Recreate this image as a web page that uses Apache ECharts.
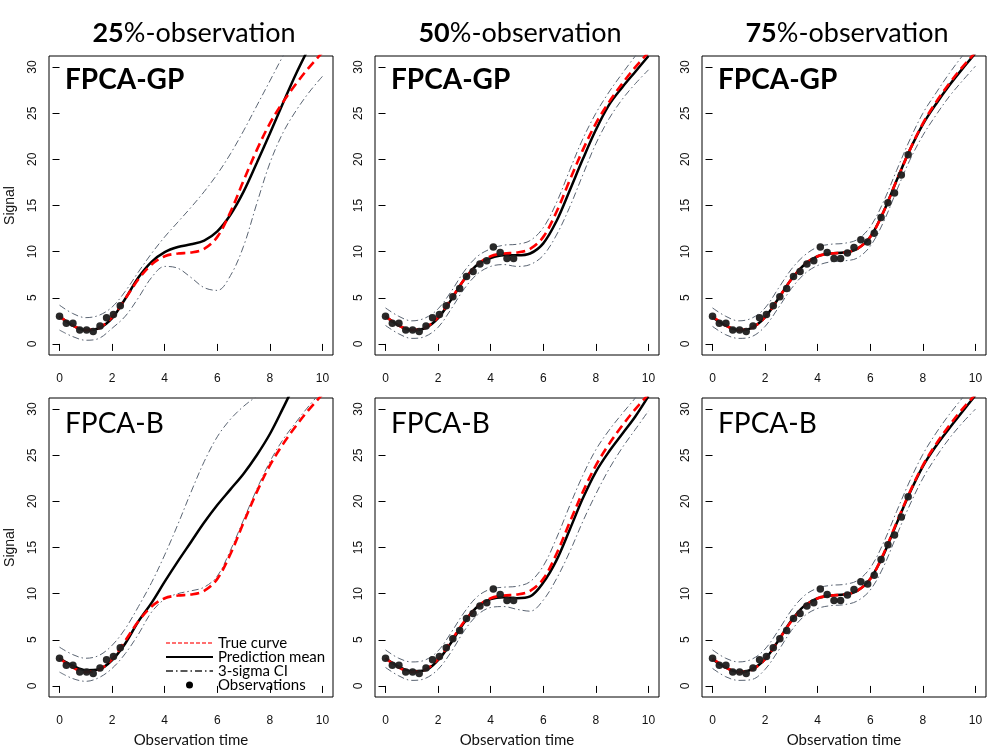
<!DOCTYPE html>
<html>
<head>
<meta charset="utf-8">
<script src="https://cdn.jsdelivr.net/npm/echarts@6/dist/echarts.min.js"></script>
<style>html,body{margin:0;padding:0;background:#fff}#c{width:998px;height:750px}</style>
</head>
<body>
<div id="c"></div>
<script>
// ---------- data ----------
const xTicks = [0, 2, 4, 6, 8, 10];
const yTicks = [0, 5, 10, 15, 20, 25, 30];
const colTitlesBold = ['25', '50', '75'];
const colTitlesRest = ['%-observation', '%-observation', '%-observation'];
const rowLabels = ['FPCA-GP', 'FPCA-B'];
const obsCount = [10, 20, 30];

const tGrid = [0, 0.5, 1, 1.5, 2, 2.5, 3, 3.5, 4, 4.5, 5, 5.5, 6, 6.5, 7, 7.5, 8, 8.5, 9, 9.5, 10];

const trueCurve = [3.0, 2.0, 1.5, 1.75, 2.9, 4.9, 7.0, 8.6, 9.5, 9.8, 9.9, 10.3, 11.6, 14.3, 17.7, 21.0, 23.9, 26.2, 28.2, 30.0, 31.6];

const obsTime = [0, 0.26, 0.51, 0.77, 1.03, 1.28, 1.54, 1.79, 2.05, 2.31, 2.56, 2.82, 3.08, 3.33, 3.59, 3.85, 4.10, 4.36, 4.62, 4.87, 5.13, 5.38, 5.64, 5.90, 6.15, 6.41, 6.67, 6.92, 7.18, 7.44];
const obsValue = [3.0, 2.25, 2.25, 1.5, 1.5, 1.35, 1.95, 2.85, 3.2, 4.15, 5.1, 6.0, 7.3, 7.85, 8.65, 9.0, 10.5, 9.9, 9.25, 9.25, 9.85, 10.45, 11.3, 11.05, 12.0, 13.7, 15.3, 16.35, 18.3, 20.5];

// FPCA-GP
const gp25Mean  = [3.0, 2.0, 1.5, 1.7, 2.8, 4.9, 7.2, 8.9, 9.95, 10.5, 10.8, 11.2, 12.2, 14.0, 16.5, 19.6, 22.8, 26.1, 29.3, 32.2, 35.0];
const gp25Upper = [4.2, 3.3, 2.85, 3.1, 4.0, 5.7, 7.8, 9.8, 11.6, 13.2, 14.8, 16.5, 18.4, 20.6, 23.1, 25.8, 28.5, 31.2, 33.6, 35.5, 37.0];
const gp25Lower = [1.5, 0.8, 0.4, 0.6, 1.7, 3.0, 5.0, 7.2, 8.4, 8.2, 7.2, 6.1, 5.8, 7.4, 10.6, 15.2, 19.6, 22.9, 25.3, 27.3, 29.0];

const gp50Mean  = [3.0, 2.0, 1.5, 1.7, 2.8, 4.8, 7.0, 8.6, 9.3, 9.6, 9.6, 9.8, 10.9, 13.3, 16.6, 20.0, 23.2, 25.9, 27.8, 29.5, 31.2];
const gp50Upper = [3.9, 3.0, 2.5, 2.8, 3.8, 5.7, 7.9, 9.5, 10.3, 10.7, 10.8, 11.2, 12.6, 15.3, 18.8, 22.2, 25.0, 27.3, 29.3, 31.2, 33.0];
const gp50Lower = [2.0, 1.1, 0.6, 0.8, 1.8, 3.8, 6.0, 7.6, 8.4, 8.6, 8.4, 8.6, 9.6, 11.8, 14.8, 18.3, 21.7, 24.4, 26.5, 28.2, 29.7];

const gp75Mean  = [2.9, 2.0, 1.5, 1.75, 2.9, 4.9, 7.0, 8.6, 9.5, 9.8, 9.9, 10.3, 11.6, 14.3, 17.7, 21.0, 23.8, 26.0, 28.0, 29.8, 31.5];
const gp75Upper = [3.9, 3.0, 2.5, 2.8, 3.9, 6.0, 8.1, 9.6, 10.5, 10.8, 10.9, 11.3, 12.7, 15.4, 18.8, 22.1, 25.0, 27.2, 29.3, 31.2, 32.9];
const gp75Lower = [1.9, 1.0, 0.6, 0.8, 1.9, 3.9, 6.0, 7.6, 8.5, 8.9, 9.0, 9.3, 10.6, 13.2, 16.6, 19.9, 22.6, 24.8, 26.8, 28.5, 30.1];

// FPCA-B
const b25Mean  = [3.0, 2.2, 1.7, 1.8, 2.8, 4.6, 7.0, 9.0, 11.3, 13.5, 15.6, 17.7, 19.6, 21.3, 23.0, 25.0, 27.3, 30.1, 33.0, 35.5, 37.5];
const b25Upper = [4.2, 3.4, 3.0, 3.3, 4.4, 6.2, 8.6, 11.2, 14.2, 17.5, 21.0, 24.3, 27.0, 28.9, 30.3, 31.4, 32.5, 33.5, 34.5, 35.5, 36.5];
const b25Lower = [1.5, 0.8, 0.5, 0.9, 1.9, 3.5, 5.6, 8.0, 9.4, 10.0, 10.3, 10.7, 11.9, 14.7, 18.0, 21.3, 24.3, 26.7, 28.6, 30.4, 32.0];

const b50Mean  = [3.0, 2.1, 1.6, 1.7, 2.8, 4.7, 6.9, 8.6, 9.4, 9.6, 9.5, 9.7, 11.2, 13.6, 16.9, 20.3, 23.2, 25.4, 27.3, 29.2, 31.4];
const b50Upper = [3.9, 3.0, 2.6, 2.8, 3.8, 5.8, 8.0, 9.7, 10.5, 10.7, 10.8, 11.3, 13.0, 16.0, 19.5, 22.8, 25.6, 27.7, 29.5, 31.2, 33.0];
const b50Lower = [2.0, 1.1, 0.6, 0.8, 1.8, 3.7, 6.0, 7.7, 8.5, 8.6, 8.3, 8.1, 9.3, 11.6, 14.5, 17.8, 20.8, 23.5, 25.8, 27.8, 29.8];

const b75Mean  = [2.9, 2.0, 1.5, 1.8, 2.9, 4.9, 7.1, 8.7, 9.5, 9.8, 9.9, 10.3, 11.6, 14.2, 17.6, 20.9, 23.8, 26.0, 27.9, 29.7, 31.5];
const b75Upper = [3.9, 3.0, 2.6, 2.9, 4.0, 6.0, 8.2, 9.8, 10.6, 10.9, 11.0, 11.4, 12.8, 15.5, 18.9, 22.2, 25.1, 27.4, 29.4, 31.2, 33.0];
const b75Lower = [1.9, 1.0, 0.6, 0.7, 1.8, 3.8, 6.0, 7.6, 8.4, 8.7, 8.8, 9.2, 10.4, 12.9, 16.3, 19.6, 22.5, 24.8, 26.8, 28.5, 30.0];

// ---------- layout / style ----------
const colLeft = [49, 375, 702];
const rowTop = [56, 398];
const boxW = 284, boxH = 299;
const tickFont = 'Liberation Sans, Arial, sans-serif';
const labelFont = 'Lato, "Open Sans", sans-serif';
const ciColor = '#5a6472';
const obsColor = '#1e1e1e';

const panels = [
  {row: 0, col: 0, mean: gp25Mean, upper: gp25Upper, lower: gp25Lower},
  {row: 0, col: 1, mean: gp50Mean, upper: gp50Upper, lower: gp50Lower},
  {row: 0, col: 2, mean: gp75Mean, upper: gp75Upper, lower: gp75Lower},
  {row: 1, col: 0, mean: b25Mean, upper: b25Upper, lower: b25Lower},
  {row: 1, col: 1, mean: b50Mean, upper: b50Upper, lower: b50Lower},
  {row: 1, col: 2, mean: b75Mean, upper: b75Upper, lower: b75Lower}
];

const pairs = (xs, ys) => xs.map((x, i) => [x, ys[i]]);

const grids = [], xAxes = [], yAxes = [], series = [];
panels.forEach((p, i) => {
  grids.push({left: colLeft[p.col], top: rowTop[p.row], width: boxW, height: boxH,
    show: true, borderColor: '#000', borderWidth: 1, backgroundColor: 'rgba(0,0,0,0)'});
  xAxes.push({gridIndex: i, type: 'value', min: -0.4, max: 10.4,
    axisLine: {show: false}, splitLine: {show: false},
    axisTick: {show: true, customValues: xTicks, length: 7, lineStyle: {color: '#000', width: 1}},
    axisLabel: {customValues: xTicks, fontSize: 12, color: '#111', fontFamily: tickFont, margin: 18},
    name: p.row === 1 ? 'Observation time' : '', nameLocation: 'middle', nameGap: 36,
    nameTextStyle: {fontSize: 15, color: '#111', fontFamily: labelFont}});
  yAxes.push({gridIndex: i, type: 'value', min: -1.2, max: 31.2,
    axisLine: {show: false}, splitLine: {show: false},
    axisTick: {show: true, customValues: yTicks, length: 7, lineStyle: {color: '#000', width: 1}},
    axisLabel: {customValues: yTicks, fontSize: 12, color: '#111', fontFamily: tickFont, rotate: 90, margin: 10},
    name: p.col === 0 ? 'Signal' : '', nameLocation: 'middle', nameGap: 32, nameRotate: 90,
    nameTextStyle: {fontSize: 14, color: '#111', fontFamily: tickFont}});
  const ciStyle = {color: ciColor, width: 1, type: [7, 3, 1.5, 3]};
  series.push({type: 'line', xAxisIndex: i, yAxisIndex: i, data: pairs(tGrid, p.lower), smooth: 0.35,
    showSymbol: false, lineStyle: ciStyle, silent: true, z: 2});
  series.push({type: 'line', xAxisIndex: i, yAxisIndex: i, data: pairs(tGrid, p.upper), smooth: 0.35,
    showSymbol: false, lineStyle: ciStyle, silent: true, z: 2});
  series.push({type: 'line', xAxisIndex: i, yAxisIndex: i, data: pairs(tGrid, p.mean), smooth: 0.35,
    showSymbol: false, lineStyle: {color: '#000', width: 2.5}, silent: true, z: 3});
  series.push({type: 'line', xAxisIndex: i, yAxisIndex: i, data: pairs(tGrid, trueCurve), smooth: 0.35,
    showSymbol: false, lineStyle: {color: '#ff0000', width: 2.6, type: [9, 5]}, silent: true, z: 4});
  const n = obsCount[p.col];
  series.push({type: 'scatter', xAxisIndex: i, yAxisIndex: i,
    data: pairs(obsTime.slice(0, n), obsValue.slice(0, n)),
    symbol: 'circle', symbolSize: 7.5, itemStyle: {color: obsColor, opacity: 0.95}, silent: true, z: 5});
});

// ---------- texts ----------
const graphics = [];
colLeft.forEach((l, c) => {
  graphics.push({type: 'text', x: l + boxW / 2 + 3, y: 33, style: {
    text: '{b|' + colTitlesBold[c] + '}{n|' + colTitlesRest[c] + '}',
    align: 'center', verticalAlign: 'middle',
    rich: {b: {fontSize: 27, fontWeight: 'bold', fontFamily: labelFont, fill: '#000'},
           n: {fontSize: 27, fontFamily: labelFont, fill: '#000'}}}});
  graphics.push({type: 'text', x: l + 16, y: 80, style: {text: rowLabels[0], fontSize: 28,
    fontWeight: 'bold', fontFamily: labelFont, fill: '#000', verticalAlign: 'middle'}});
  graphics.push({type: 'text', x: l + 16, y: 424, style: {text: rowLabels[1], fontSize: 28,
    fontFamily: labelFont, fill: '#000', verticalAlign: 'middle'}});
});

// legend in bottom-left panel
const legendItems = ['True curve', 'Prediction mean', '3-sigma CI', 'Observations'];
const legY = [643, 657, 671, 685];
const lx0 = 166, lx1 = 213, ltx = 218;
graphics.push({type: 'line', shape: {x1: lx0, y1: legY[0], x2: lx1, y2: legY[0]},
  style: {stroke: '#ff4040', lineWidth: 1.3, lineDash: [4, 2]}});
graphics.push({type: 'line', shape: {x1: lx0, y1: legY[1], x2: lx1, y2: legY[1]},
  style: {stroke: '#000', lineWidth: 2}});
graphics.push({type: 'line', shape: {x1: lx0, y1: legY[2], x2: lx1, y2: legY[2]},
  style: {stroke: '#222', lineWidth: 1.3, lineDash: [7, 3, 1.5, 3]}});
graphics.push({type: 'circle', shape: {cx: (lx0 + lx1) / 2, cy: legY[3], r: 3.5}, style: {fill: '#000'}});
legendItems.forEach((t, k) => {
  graphics.push({type: 'text', x: ltx, y: legY[k], style: {text: t, fontSize: 15,
    fontFamily: labelFont, fill: '#000', verticalAlign: 'middle'}});
});

const chart = echarts.init(document.getElementById('c'), null, {renderer: 'canvas'});
chart.setOption({
  animation: false,
  backgroundColor: '#fff',
  grid: grids, xAxis: xAxes, yAxis: yAxes, series: series,
  graphic: graphics
});
</script>
</body>
</html>
